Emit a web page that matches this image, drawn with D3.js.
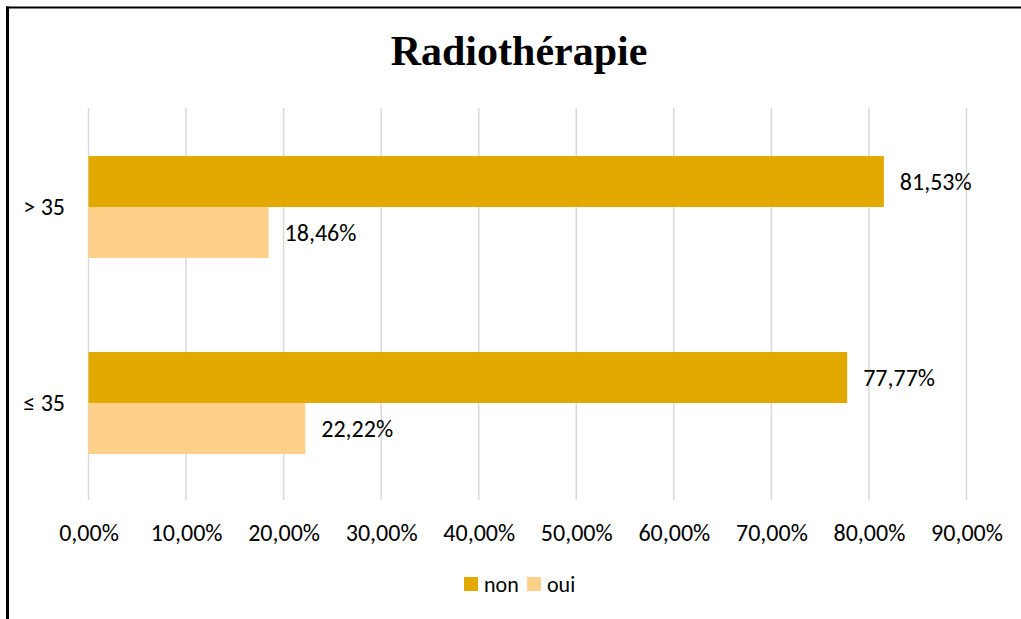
<!DOCTYPE html>
<html><head><meta charset="utf-8">
<script src="https://cdn.jsdelivr.net/npm/d3@7"></script>
<style>body{margin:0;background:#fff;}svg{display:block;}</style>
</head><body>
<script>
const categories = ["> 35", "≤ 35"];
const seriesNames = ["non", "oui"];
const nonValues = [81.53, 77.77];
const ouiValues = [18.46, 22.22];
const tickValues = [0,10,20,30,40,50,60,70,80,90];
const colors = ["#E2AA00", "#FFD08A"];
const title = "Radiothérapie";

const W = 1021, H = 619;
const FONT = "Carlito, Lato, 'Open Sans', sans-serif";
const svg = d3.select("body").append("svg").attr("width", W).attr("height", H);
svg.append("rect").attr("width", W).attr("height", H).attr("fill", "#fff");
// frame (top and left)
svg.append("line").attr("x1", 6).attr("x2", W).attr("y1", 7.5).attr("y2", 7.5).attr("stroke", "#000").attr("stroke-width", 2);
svg.append("line").attr("x1", 7.5).attr("x2", 7.5).attr("y1", 6.5).attr("y2", H).attr("stroke", "#000").attr("stroke-width", 3);

const x = d3.scaleLinear().domain([0, 90]).range([88.5, 966.5]);
const y = d3.scaleBand().domain(categories).range([109, 501]).paddingInner(0.48).paddingOuter(0.24);
const ySub = d3.scaleBand().domain(seriesNames).range([0, y.bandwidth()]);

svg.append("text").attr("x", 519).attr("y", 65).attr("text-anchor", "middle")
  .attr("font-family", "'Liberation Serif', 'Times New Roman', serif").attr("font-weight", "bold")
  .attr("font-size", 42).text(title);

// gridlines
svg.append("g").selectAll("line").data(tickValues).join("line")
  .attr("x1", d => x(d)).attr("x2", d => x(d)).attr("y1", 108).attr("y2", 500)
  .attr("stroke", "#D9D9D9").attr("stroke-width", 1.5);

// axis
const axis = d3.axisBottom(x).tickValues(tickValues).tickSize(0).tickPadding(0)
  .tickFormat(d => d.toFixed(2).replace(".", ",") + "%");
const gx = svg.append("g").attr("transform", "translate(0,524)").call(axis);
gx.select(".domain").remove();
gx.selectAll("text").attr("font-family", FONT).attr("font-size", 24).attr("fill", "#000").attr("dy", "0.71em");

const gy = svg.append("g").attr("transform", "translate(65,0)")
  .call(d3.axisLeft(y).tickSize(0).tickPadding(0));
gy.select(".domain").remove();
gy.selectAll("text").attr("font-family", FONT).attr("font-size", 24).attr("fill", "#000");

const data = categories.map((c, i) => ({cat: c, vals: [{s: "non", v: nonValues[i]}, {s: "oui", v: ouiValues[i]}]}));
const groups = svg.append("g").selectAll("g").data(data).join("g")
  .attr("transform", d => `translate(0,${y(d.cat)})`);
groups.selectAll("rect").data(d => d.vals).join("rect")
  .attr("x", x(0)).attr("y", d => ySub(d.s)).attr("width", d => x(d.v) - x(0))
  .attr("height", ySub.bandwidth()).attr("fill", (d, i) => colors[i]);
groups.selectAll("text").data(d => d.vals).join("text")
  .attr("x", d => x(d.v) + 16).attr("y", d => ySub(d.s) + ySub.bandwidth() / 2).attr("dy", "0.35em")
  .attr("font-family", FONT).attr("font-size", 24).attr("fill", "#000")
  .text(d => d.v.toFixed(2).replace(".", ",") + "%");

// legend
const legend = svg.append("g").attr("transform", "translate(464,584)");
const lx = [0, 63];
seriesNames.forEach((s, i) => {
  legend.append("rect").attr("x", lx[i]).attr("y", -7).attr("width", 14).attr("height", 14).attr("fill", colors[i]);
  legend.append("text").attr("x", lx[i] + 20).attr("y", 0).attr("dy", "0.35em")
    .attr("font-family", FONT).attr("font-size", 22).attr("fill", "#000").text(s);
});
</script>
</body></html>
